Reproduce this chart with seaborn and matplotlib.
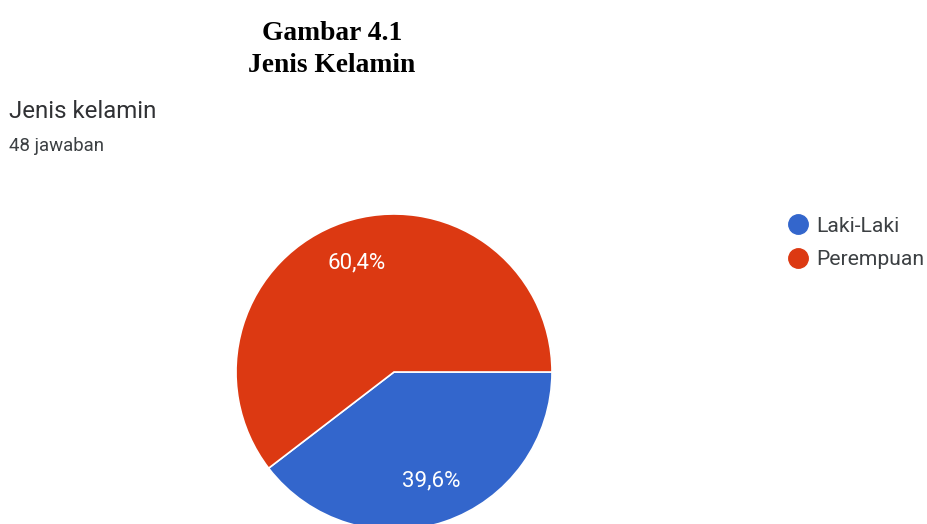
import matplotlib
matplotlib.use("Agg")
import matplotlib.pyplot as plt
from matplotlib.lines import Line2D
import numpy as np
import seaborn as sns

# Survey responses: gender of respondents
categories = ["Laki-Laki", "Perempuan"]
counts = [19, 29]
pct_labels = ["39,6%", "60,4%"]
total_label = "48 jawaban"

sns.set_theme(style="white")
plt.rcParams["font.family"] = ["Roboto", "DejaVu Sans"]
palette = ["#3366CC", "#DC3912"]

W, H = 928, 524
fig = plt.figure(figsize=(W / 100, H / 100), dpi=100)
fig.patch.set_facecolor("white")

# Pie axes placed by pixel centre and radius
cx, cy, r = 394, 372, 158
ax = fig.add_axes([(cx - r) / W, (H - cy - r) / H, 2 * r / W, 2 * r / H])
wedges, _ = ax.pie(
    counts,
    colors=palette,
    startangle=0,
    counterclock=False,
    radius=1,
    wedgeprops=dict(edgecolor="white", linewidth=1.2),
)
for w, lab in zip(wedges, pct_labels):
    ang = np.deg2rad((w.theta1 + w.theta2) / 2)
    ax.text(0.73 * np.cos(ang), 0.73 * np.sin(ang), lab, color="white",
            ha="center", va="center", fontsize=16)
ax.set_xlim(-1, 1)
ax.set_ylim(-1, 1)
ax.set_aspect("equal")
ax.axis("off")

# Headings
fig.text(332 / W, 1 - 33 / H, "Gambar 4.1", ha="center", va="center",
         family="Liberation Serif", fontweight="bold", fontsize=19.8, color="black")
fig.text(332 / W, 1 - 66 / H, "Jenis Kelamin", ha="center", va="center",
         family="Liberation Serif", fontweight="bold", fontsize=19.8, color="black")
fig.text(9 / W, 1 - 118 / H, "Jenis kelamin", ha="left", va="baseline",
         fontsize=17.3, color="#303134")
fig.text(9 / W, 1 - 151 / H, total_label, ha="left", va="baseline",
         fontsize=13.4, color="#3c4043")

# Legend with circular swatches
handles = [Line2D([], [], marker="o", linestyle="none", markersize=14,
                  markerfacecolor=c, markeredgecolor=c) for c in palette]
fig.legend(handles, categories, loc="upper left",
           bbox_to_anchor=(775 / W, 1 - 206 / H), frameon=False,
           fontsize=15.2, labelcolor="#3c4043", handletextpad=0.25,
           labelspacing=0.68, handlelength=1.2, borderpad=0)

fig.savefig("out.png", dpi=100, facecolor="white")
